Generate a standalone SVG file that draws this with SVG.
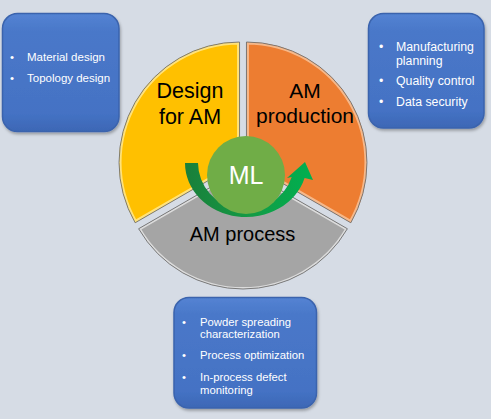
<svg xmlns="http://www.w3.org/2000/svg" width="491" height="419" viewBox="0 0 491 419">
<defs>
<style>
.box{fill:url(#bx);stroke:#3A63AD;stroke-width:1.5;filter:url(#sh)}
.bt{font-family:"Liberation Sans",Arial,sans-serif;fill:#FFFFFF}
.lbl{font-family:"Liberation Sans",Arial,sans-serif;fill:#000000;text-anchor:middle}
.edge{fill:none;stroke:#6F6F6F;stroke-width:0.9}
</style>
<linearGradient id="bx" x1="0" y1="0" x2="0" y2="1">
<stop offset="0" stop-color="#5483D3"/>
<stop offset="0.15" stop-color="#4A78C9"/>
<stop offset="0.85" stop-color="#4472C4"/>
<stop offset="1" stop-color="#3D67B5"/>
</linearGradient>
<linearGradient id="ag" x1="0" y1="0" x2="1" y2="0">
<stop offset="0" stop-color="#1A7F3A"/>
<stop offset="0.5" stop-color="#139A45"/>
<stop offset="1" stop-color="#00B050"/>
</linearGradient>
<filter id="sh" x="-10%" y="-10%" width="125%" height="125%">
<feDropShadow dx="1" dy="2" stdDeviation="1.5" flood-color="#000" flood-opacity="0.3"/>
</filter>
<path id="wy" d="M239.54,162.5 L239.54,42 A120.5,120.5 0 0 0 135.18,222.75 Z"/>
<path id="wo" d="M246.46,162.5 L246.46,42 A120.5,120.5 0 0 1 350.82,222.75 Z"/>
<path id="wg" d="M243,168.5 L347.36,228.75 A120.5,120.5 0 0 1 138.64,228.75 Z"/>
<clipPath id="cy"><use href="#wy"/></clipPath>
<clipPath id="co"><use href="#wo"/></clipPath>
<clipPath id="cg"><use href="#wg"/></clipPath>
</defs>
<rect x="0" y="0" width="491" height="419" fill="#D6DCE5"/>

<g id="box-design">
<rect class="box" x="2.5" y="13.5" width="116.5" height="118" rx="15"/>
<text class="bt" font-size="11.5"><tspan x="10" y="61">•</tspan><tspan x="27" y="61">Material design</tspan><tspan x="10" y="82">•</tspan><tspan x="27" y="82">Topology design</tspan></text>
</g>

<g id="box-production">
<rect class="box" x="368.5" y="13.5" width="115.5" height="114.5" rx="15"/>
<text class="bt" font-size="12.3"><tspan x="379" y="51">•</tspan><tspan x="396" y="51">Manufacturing</tspan><tspan x="396" y="64.5">planning</tspan><tspan x="379" y="85">•</tspan><tspan x="396" y="85">Quality control</tspan><tspan x="379" y="106">•</tspan><tspan x="396" y="106">Data security</tspan></text>
</g>

<g id="box-process">
<rect class="box" x="174" y="297.5" width="142.5" height="110.5" rx="15"/>
<text class="bt" font-size="11.3"><tspan x="182" y="325.5">•</tspan><tspan x="200" y="325.5">Powder spreading</tspan><tspan x="200" y="337.5">characterization</tspan><tspan x="182" y="359">•</tspan><tspan x="200" y="359">Process optimization</tspan><tspan x="182" y="381">•</tspan><tspan x="200" y="381">In-process defect</tspan><tspan x="200" y="393.5">monitoring</tspan></text>
</g>

<g id="seg-design">
<use href="#wy" fill="#FFC000"/>
<use href="#wy" fill="none" stroke="#FFE27A" stroke-width="5" clip-path="url(#cy)"/>
<use href="#wy" class="edge"/>
<text class="lbl" font-size="21.5"><tspan x="190" y="98">Design</tspan><tspan x="190" y="124">for AM</tspan></text>
</g>

<g id="seg-production">
<use href="#wo" fill="#ED7D31"/>
<use href="#wo" fill="none" stroke="#F6B88A" stroke-width="5" clip-path="url(#co)"/>
<use href="#wo" class="edge"/>
<text class="lbl" font-size="21"><tspan x="305" y="98">AM</tspan><tspan x="305" y="123">production</tspan></text>
</g>

<g id="seg-process">
<use href="#wg" fill="#A5A5A5"/>
<use href="#wg" fill="none" stroke="#DCDCDC" stroke-width="4" clip-path="url(#cg)"/>
<use href="#wg" class="edge"/>
<text class="lbl" font-size="20" x="242.5" y="241">AM process</text>
</g>

<g id="connectors">
<path d="M185,163 A61,54 0 0 0 304.6,178 L313,180 L305,162 L287,178 L291.7,177 A48,47 0 0 1 198,163 Z" fill="url(#ag)"/>
</g>

<g id="node-ml">
<circle cx="246" cy="175" r="39" fill="#70AD47"/>
<text x="246" y="184" font-family="Liberation Sans, Arial, sans-serif" font-size="25" fill="#FFFFFF" text-anchor="middle">ML</text>
</g>
</svg>
